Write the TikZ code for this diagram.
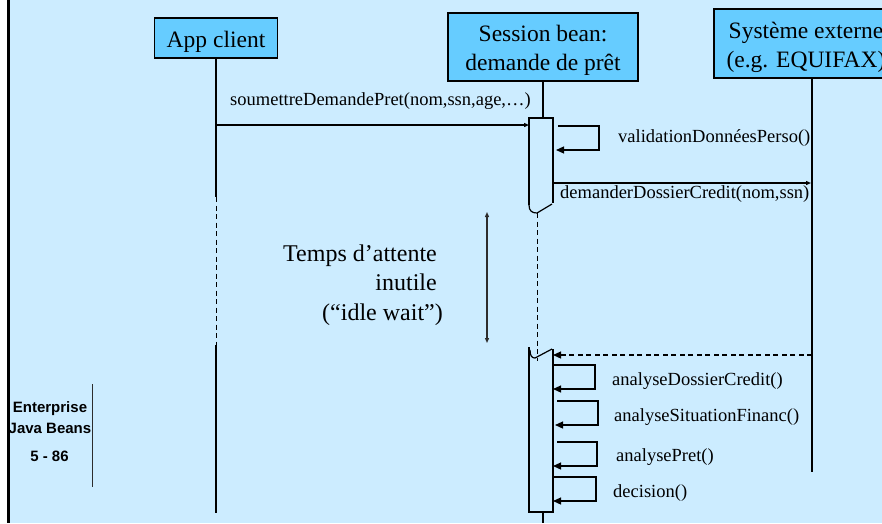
\documentclass[tikz,border=0pt]{standalone}
\usepackage{fontspec}
\setmainfont{Liberation Serif}
\newfontfamily\arialfont{Liberation Sans}
\usetikzlibrary{arrows.meta}
\definecolor{bgblue}{RGB}{204,236,255}
\definecolor{boxblue}{RGB}{102,204,255}
\definecolor{darkline}{RGB}{45,45,45}
\begin{document}
\begin{tikzpicture}[x=1pt,y=-1pt,
  actor/.style={draw=black,line width=1.2pt,fill=boxblue,align=center,font=\fontsize{23.5}{29}\selectfont,inner sep=0pt},
  life/.style={line width=1.2pt},
  lifedash/.style={line width=1pt,dash pattern=on 5pt off 3.5pt},
  msg/.style={line width=1.2pt,-{Triangle[length=5pt,width=4pt]}},
  selfmsg/.style={line width=1.2pt,-{Triangle[length=8pt,width=7pt]}},
  lbl/.style={font=\fontsize{18.5}{22}\selectfont,inner sep=0pt,anchor=west},
  ejb/.style={font=\arialfont\bfseries\fontsize{15}{18}\selectfont,inner sep=0pt}
  ]
\useasboundingbox (0,0) rectangle (882,523);
\fill[bgblue] (0,0) rectangle (882,523);
\begin{scope}
\clip (0,0) rectangle (882,523);
% actors
\node[actor,minimum width=123pt,minimum height=40pt] (app) at (216,38) {\rule{0pt}{24pt}App client};
\node[actor,minimum width=190pt,minimum height=68pt] (sess) at (543,47) {\rule{0pt}{23pt}Session bean:\\demande de prêt};
\node[actor,minimum width=184pt,minimum height=69pt] (ext) at (806,43.5) {\rule{0pt}{25pt}Système externe\\(e.g. EQUIFAX)};

% app client lifeline
\coordinate (a1) at (216,197);
\coordinate (a2) at (216,345);
\coordinate (aB) at (216,513);
\draw[life] (app.south) -- (a1);
\draw[lifedash] (a1) -- (a2);
\draw[life] (a2) -- (aB);

% session lifeline and activations
\coordinate (s1) at (543,118);
\draw[life] (sess.south) -- (s1);
\coordinate (act1tl) at (529,118);
\coordinate (act1tr) at (553,118);
\coordinate (act1bl) at (529,205);
\coordinate (act1br) at (553,203);
\coordinate (brk1a) at (537,213);
\coordinate (brk1b) at (552,204);
\draw[life] (act1bl) -- (act1tl) -- (act1tr) -- (act1br);
\draw[life] (act1bl) .. controls (529,211) and (532,213) .. (brk1a) -- (brk1b);
\coordinate (d2) at (537,361);
\draw[lifedash] (brk1a) -- (d2);
\coordinate (act2tl) at (529,347);
\coordinate (act2bl) at (529,512);
\coordinate (act2br) at (553,512);
\coordinate (act2tr) at (553,349);
\coordinate (brk2a) at (530,350);
\coordinate (brk2m) at (535,358);
\coordinate (brk2b) at (552,349);
\draw[life] (act2tl) -- (act2bl) -- (act2br) -- (act2tr);
\draw[life] (brk2a) .. controls (530,356) and (532,358) .. (brk2m) -- (brk2b);
\coordinate (s2) at (543,512);
\coordinate (sB) at (543,523);
\draw[life] (s2) -- (sB);

% external lifeline
\coordinate (eT) at (812,78);
\coordinate (eB) at (812,472);
\draw[life] (eT) -- (eB);

% message 1
\coordinate (m1s) at (216,125);
\coordinate (m1e) at (529,125);
\draw[msg] (m1s) -- (m1e);
\node[lbl] (l1) at (230,101) {soumettreDemandePret(nom,ssn,age,…)};

% self call validation
\coordinate (v1) at (558,126);
\coordinate (v2) at (599,150);
\coordinate (v3) at (556,150);
\draw[selfmsg] (v1) -| (v2) -- (v3);
\node[lbl] (l2) at (618,138) {validationDonnéesPerso()};

% message 2
\coordinate (m2s) at (553,183);
\coordinate (m2e) at (811,183);
\draw[msg] (m2s) -- (m2e);
\node[lbl] (l3) at (560,194) {demanderDossierCredit(nom,ssn)};

% idle wait
\coordinate (i1) at (487,212);
\coordinate (i2) at (487,343);
\draw[darkline,line width=1.2pt,{Triangle[length=5pt,width=4pt]}-{Triangle[length=5pt,width=4pt]}] (i1) -- (i2);
\node[font=\fontsize{24}{29.5}\selectfont,align=right,anchor=east,inner sep=0pt] (idle) at (443,285) {Temps d’attente\kern6pt\\inutile\kern6pt\\(“idle wait”)};

% return
\coordinate (r1) at (812,355);
\coordinate (r2) at (553,355);
\draw[selfmsg,dash pattern=on 5pt off 3.5pt] (r1) -- (r2);

% self calls
\coordinate (p1) at (553,365);
\coordinate (p2) at (595,389);
\coordinate (p3) at (553,389);
\draw[selfmsg] (p1) -| (p2) -- (p3);
\node[lbl] (l4) at (612,381) {analyseDossierCredit()};

\coordinate (q1) at (557,401);
\coordinate (q2) at (598,425);
\coordinate (q3) at (555,425);
\draw[selfmsg] (q1) -| (q2) -- (q3);
\node[lbl] (l5) at (614,417) {analyseSituationFinanc()};

\coordinate (t1) at (557,442);
\coordinate (t2) at (597,466);
\coordinate (t3) at (553,466);
\draw[selfmsg] (t1) -| (t2) -- (t3);
\node[lbl] (l6) at (616,457) {analysePret()};

\coordinate (u1) at (553,477);
\coordinate (u2) at (596,501);
\coordinate (u3) at (553,501);
\draw[selfmsg] (u1) -| (u2) -- (u3);
\node[lbl] (l7) at (613,493) {decision()};

% side label
\node[ejb] (ej1) at (50,409) {Enterprise};
\node[ejb] (ej2) at (50,428) {Java Beans};
\node[ejb] (ej3) at (49.5,456) {5 - 86};
\coordinate (dv1) at (92.5,384);
\coordinate (dv2) at (92.5,487);
\draw[darkline,line width=1.2pt] (dv1) -- (dv2);

% left border
\fill[white] (0,0) rectangle (7,523);
\fill[black] (7,0) rectangle (10,523);
\end{scope}
\end{tikzpicture}
\end{document}
